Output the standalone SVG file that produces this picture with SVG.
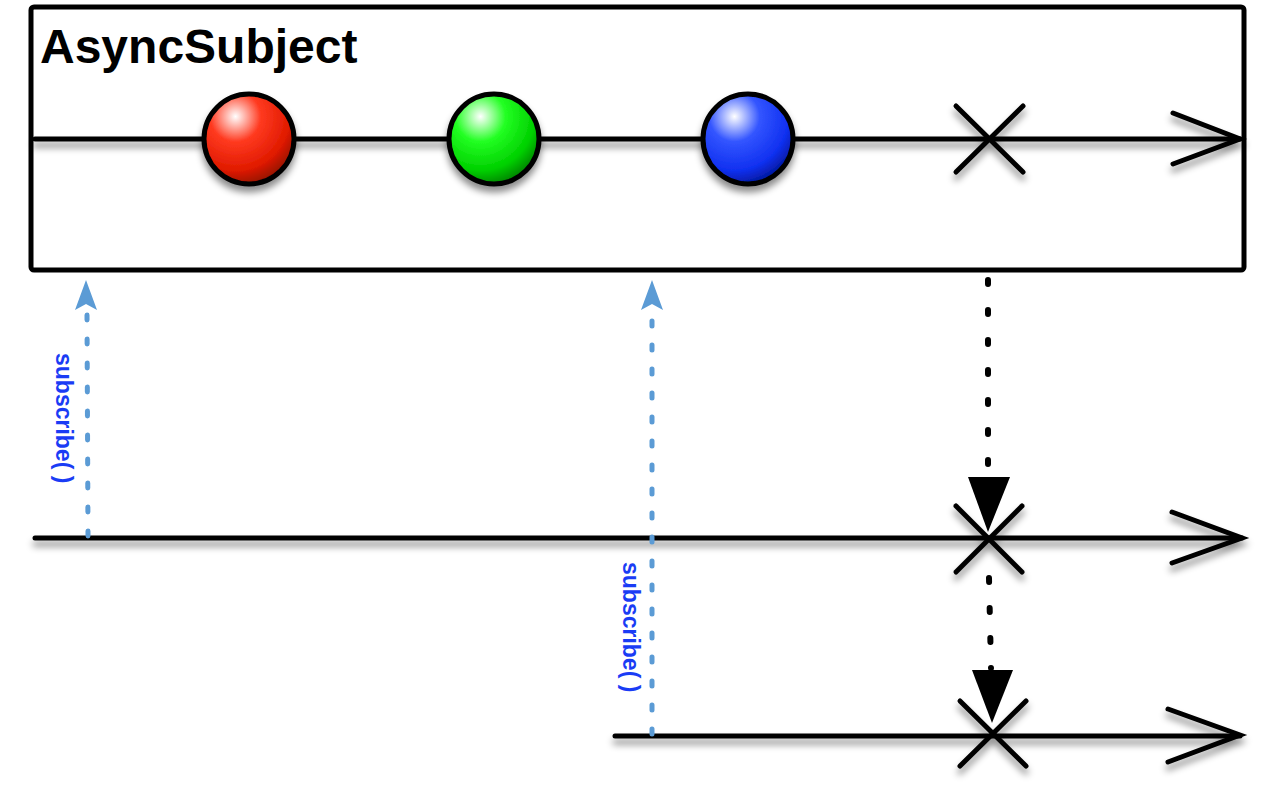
<svg xmlns="http://www.w3.org/2000/svg" width="1280" height="790" viewBox="0 0 1280 790">
  <defs>
    <filter id="sh" x="-20%" y="-50%" width="140%" height="250%">
      <feDropShadow dx="0" dy="6" stdDeviation="3.5" flood-color="#000" flood-opacity="0.45"/>
    </filter>
    <radialGradient id="gr" cx="0.35" cy="0.25" r="0.8">
      <stop offset="0" stop-color="#ffffff"/>
      <stop offset="0.35" stop-color="#ff3a20"/>
      <stop offset="0.75" stop-color="#e01a00"/>
      <stop offset="1" stop-color="#8a1000"/>
    </radialGradient>
    <radialGradient id="gg" cx="0.35" cy="0.25" r="0.8">
      <stop offset="0" stop-color="#ffffff"/>
      <stop offset="0.35" stop-color="#22ff22"/>
      <stop offset="0.75" stop-color="#00d000"/>
      <stop offset="1" stop-color="#007a00"/>
    </radialGradient>
    <radialGradient id="gb" cx="0.35" cy="0.25" r="0.8">
      <stop offset="0" stop-color="#ffffff"/>
      <stop offset="0.35" stop-color="#3355ff"/>
      <stop offset="0.75" stop-color="#1030f0"/>
      <stop offset="1" stop-color="#001590"/>
    </radialGradient>
  </defs>
  <style>
    .ln{stroke:#000;stroke-width:5;stroke-linecap:round;fill:none}
    .x{stroke:#000;stroke-width:5;stroke-linecap:round;fill:none}
    .ball{stroke:#000;stroke-width:5}
    .bd{stroke:#000;stroke-width:6;stroke-linecap:round;stroke-dasharray:4 26;fill:none}
    .blu{stroke:#5b9bd5;stroke-width:5;stroke-linecap:round;stroke-dasharray:5 19;fill:none}
    .lbl{font-family:"Liberation Sans",Arial,sans-serif;font-weight:bold;font-size:23px;fill:#1a3cf5}
    .title{font-family:"Liberation Sans",Arial,sans-serif;font-weight:bold;font-size:48px;fill:#000}
  </style>
  <rect width="1280" height="790" fill="#fff"/>

  <g id="subject">
    <rect x="31" y="7" width="1213" height="263" rx="3" fill="#fff" stroke="#000" stroke-width="5"/>
    <text class="title" x="40" y="63">AsyncSubject</text>
    <g filter="url(#sh)">
      <line class="ln" x1="35" y1="139" x2="1240" y2="139"/>
      <polyline class="ln" points="1173,113 1240,139 1173,164"/>
      <line class="x" x1="956" y1="106" x2="1023" y2="172"/>
      <line class="x" x1="1023" y1="106" x2="956" y2="172"/>
    </g>
    <g id="ball-red" filter="url(#sh)"><circle class="ball" cx="249" cy="139" r="45" fill="url(#gr)"/></g>
    <g id="ball-green" filter="url(#sh)"><circle class="ball" cx="494" cy="139" r="45" fill="url(#gg)"/></g>
    <g id="ball-blue" filter="url(#sh)"><circle class="ball" cx="748" cy="139" r="45" fill="url(#gb)"/></g>
  </g>

  <g id="observer1" filter="url(#sh)">
    <line class="ln" x1="35" y1="538" x2="1242" y2="538"/>
    <polyline class="ln" points="1172,512 1242,538 1172,563"/>
    <line class="x" x1="956" y1="506" x2="1022" y2="572"/>
    <line class="x" x1="1022" y1="506" x2="956" y2="572"/>
  </g>

  <g id="observer2" filter="url(#sh)">
    <line class="ln" x1="615" y1="736" x2="1240" y2="736"/>
    <polyline class="ln" points="1168,709 1240,735 1168,762"/>
    <line class="x" x1="960" y1="701" x2="1026" y2="766"/>
    <line class="x" x1="1026" y1="701" x2="960" y2="766"/>
  </g>

  <g id="connectors">
    <line class="bd" x1="988" y1="280" x2="988" y2="472"/>
    <polygon points="968,477 1010,477 988,532" fill="#000"/>
    <line class="bd" x1="989" y1="578" x2="991" y2="668"/>
    <polygon points="972,670 1013,670 992,723" fill="#000"/>

    <line class="blu" x1="88" y1="536" x2="87" y2="314"/>
    <polygon points="86,280 97,310 86,304 75,310" fill="#5b9bd5"/>
    <line class="blu" x1="652" y1="734" x2="652" y2="314"/>
    <polygon points="652,280 663,310 652,304 641,310" fill="#5b9bd5"/>
  </g>

  <g id="labels">
    <text class="lbl" transform="translate(56,353) rotate(90)">subscribe( )</text>
    <text class="lbl" transform="translate(623,562) rotate(90)">subscribe( )</text>
  </g>
</svg>
